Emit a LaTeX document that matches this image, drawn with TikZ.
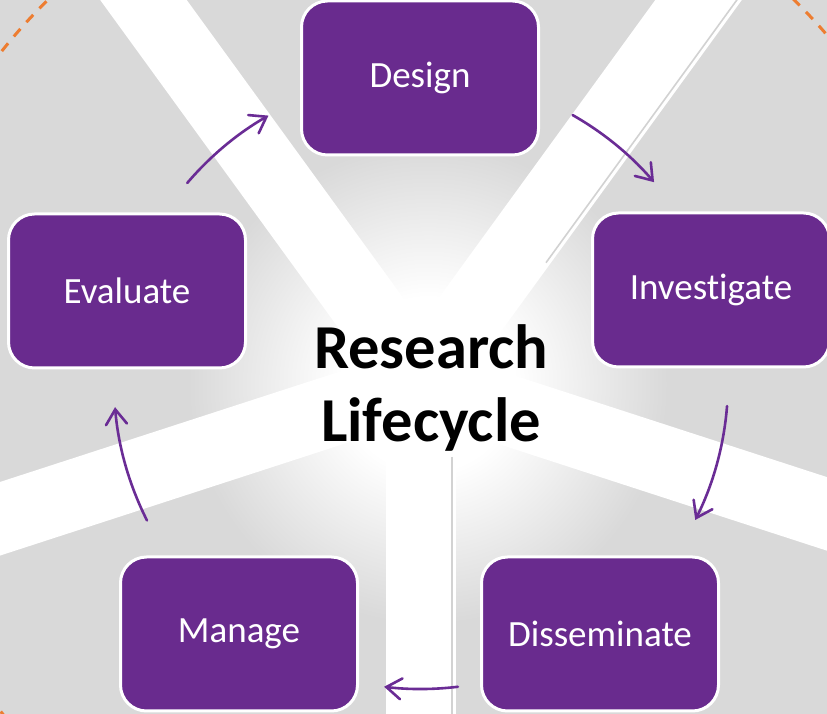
\documentclass[tikz,border=0pt]{standalone}
\usepackage{fontspec}
\setmainfont{Carlito}[Ligatures=NoCommon]
\usepackage{tikz}
\usetikzlibrary{arrows.meta,calc}
\definecolor{paper}{HTML}{D9D9D9}
\definecolor{plum}{HTML}{692B8E}
\definecolor{arrowplum}{HTML}{6A2C95}
\definecolor{dashorange}{HTML}{ED7D31}
\definecolor{seam}{HTML}{D2D2D2}
\pgfdeclareradialshading{glow}{\pgfpoint{0bp}{0bp}}{color(0bp)=(white); color(9bp)=(white); color(25bp)=(paper); color(50bp)=(paper)}
\tikzset{
  stage/.style={draw=white, line width=3pt, fill=plum, rounded corners=26pt,
    minimum width=237pt, minimum height=154pt, text=white,
    font=\fontsize{37}{44}\selectfont},
  ray/.style={fill=white},
  seamline/.style={draw=seam, line width=1.6pt},
  flow/.style={draw=arrowplum, line width=2.6pt, line cap=round,
    -{Straight Barb[length=15pt,width=21pt,line cap=round]}},
  ring/.style={draw=dashorange, line width=3pt, dash pattern=on 10pt off 9pt},
  heading/.style={font=\fontsize{62.5}{73}\selectfont\bfseries, align=center}
}

\begin{document}
\begin{tikzpicture}[x=1pt,y=1pt]
  \useasboundingbox (0,0) rectangle (827,714);
  \clip (0,0) rectangle (827,714);
  \fill[paper] (0,0) rectangle (827,714);
  \coordinate (hub) at (421,332);

  % soft light behind the title
  \shade[shading=glow] (428,330) circle (240);

  % five white rays
  \foreach \a in {54,126,198,270,342}
    \fill[ray, shift={(hub)}, rotate=\a] (0,-35) -- (900,-35) -- (900,35) -- (0,35) -- cycle;
  \draw[seamline, shift={(hub)}, rotate=54] (170,-31) -- (900,-31);
  \draw[seamline, shift={(hub)}, rotate=270] (75,31) -- (900,31);

  \draw[ring] (hub) circle (534);

  \node[stage] (design) at (420,636) {Design};
  \node[stage] (investigate) at (711,424) {Investigate};
  \node[stage] (disseminate) at (600,80) {Disseminate};
  \node[stage] (manage) at (239,80) {Manage};
  \node[stage] (evaluate) at (127,423) {Evaluate};

  \node[heading] (lifecycle) at (431,326) {Research\\Lifecycle};

  % arrows round the cycle
  \draw[flow] ([shift={(139.6:307)}]hub) arc[start angle=139.6, end angle=119.8, radius=307];
  \draw[flow] ([shift={(60.4:307)}]hub) arc[start angle=60.4, end angle=40.6, radius=307];
  \draw[flow] ([shift={(-4.5:307)}]hub) arc[start angle=-4.5, end angle=-26.7, radius=307];
  \draw[flow] ([shift={(-83.1:307)}]hub) arc[start angle=-83.1, end angle=-96.9, radius=307];
  \draw[flow] ([shift={(206.8:307)}]hub) arc[start angle=206.8, end angle=184.7, radius=307];
\end{tikzpicture}
\end{document}
